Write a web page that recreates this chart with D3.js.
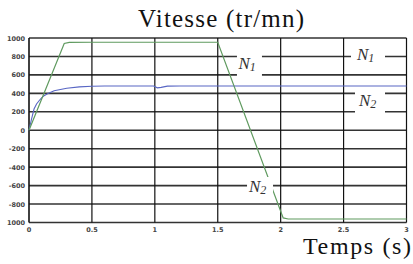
<!DOCTYPE html>
<html>
<head>
<meta charset="utf-8">
<script src="https://d3js.org/d3.v7.min.js"></script>
<style>
  body { margin: 0; background: white; }
</style>
</head>
<body>
<svg id="chart" width="413" height="264"></svg>
<script>
// data
const refT = [0, 0.28, 0.32, 0.5, 1.0, 1.5, 2.02, 2.06, 2.5, 3];
const refN = [0, 940, 952, 954, 954, 954, -950, -962, -962, -962];
const spdT = [0, 0.02, 0.04, 0.06, 0.08, 0.1, 0.12, 0.16, 0.2, 0.3, 0.4, 0.5, 0.6, 0.99, 1.02, 1.05, 1.1, 1.2, 2, 3];
const spdN = [0, 120, 230, 285, 320, 350, 375, 405, 428, 455, 470, 477, 480, 480, 460, 465, 478, 480, 480, 480];
const yTicks = [1000, 800, 600, 400, 200, 0, -200, -400, -600, -800, -1000];
const yTickText = ["1000", "800", "600", "400", "200", "0", "-200", "-400", "-600", "-800", "1000"];
const xTicks = [0, 0.5, 1, 1.5, 2, 2.5, 3];
const xTickText = ["0", "0.5", "1", "1.5", "2", "2.5", "3"];
// curve labels: position (t, N), sub index
const labT = [1.752, 1.836, 2.694, 2.71];
const labN = [702, -626, 805, 301];
const labSub = ["1", "2", "1", "2"];

const serif = "'Liberation Serif', 'DejaVu Serif', 'Noto Serif', 'Times New Roman', serif";

const svg = d3.select("#chart");
const margin = {top: 38, right: 6.5, bottom: 41.5, left: 29};
const W = 413, H = 264;

const x = d3.scaleLinear().domain([0, 3]).range([margin.left, W - margin.right]);
const y = d3.scaleLinear().domain([-1000, 1000]).range([H - margin.bottom, margin.top]);

// horizontal grid
svg.append("g")
  .selectAll("line").data(yTicks).join("line")
  .attr("x1", x(0)).attr("x2", x(3))
  .attr("y1", d => y(d)).attr("y2", d => y(d))
  .attr("stroke", "#333").attr("stroke-width", 1.6);

// vertical grid
svg.append("g")
  .selectAll("line").data(xTicks).join("line")
  .attr("x1", d => x(d)).attr("x2", d => x(d))
  .attr("y1", y(1000)).attr("y2", y(-1000))
  .attr("stroke", "#111").attr("stroke-width", d => d == 0 ? 1.6 : 1.2);

// tick labels
svg.append("g")
  .selectAll("text").data(yTicks).join("text")
  .attr("x", 25).attr("y", d => y(d) + 2.5)
  .attr("text-anchor", "end")
  .style("font-family", "'DejaVu Sans'").style("font-weight", "bold")
  .style("font-size", "6.5px").attr("fill", "#444")
  .text((d, i) => yTickText[i]);

svg.append("g")
  .selectAll("text").data(xTicks).join("text")
  .attr("x", d => x(d)).attr("y", 231.5)
  .attr("text-anchor", "middle")
  .style("font-family", "'DejaVu Sans'").style("font-weight", "bold")
  .style("font-size", "6.5px").attr("fill", "#444")
  .text((d, i) => xTickText[i]);

// curves
const line = d3.line().x(d => x(d[0])).y(d => y(d[1]));
svg.append("path")
  .attr("d", line(d3.zip(spdT, spdN)))
  .attr("fill", "none").attr("stroke", "#5866c4").attr("stroke-width", 1.1);
svg.append("path")
  .attr("d", line(d3.zip(refT, refN)))
  .attr("fill", "none").attr("stroke", "#5f9a5f").attr("stroke-width", 1.2);

// N labels with white boxes
const boxW = [25, 26, 34, 30], boxH = [27, 22, 20, 25];
const lg = svg.append("g");
labT.forEach((t0, i) => {
  const cx = x(t0), cy = y(labN[i]);
  lg.append("rect")
    .attr("x", cx - boxW[i] / 2).attr("y", cy - boxH[i] / 2)
    .attr("width", boxW[i]).attr("height", boxH[i])
    .attr("fill", "white");
  const t = lg.append("text")
    .attr("x", cx - 11).attr("y", cy + 4)
    .style("font-family", serif).style("font-style", "italic")
    .style("font-size", "17px").attr("fill", "#333");
  t.append("tspan").text("N");
  t.append("tspan").attr("dy", 2).style("font-size", "12px").text(labSub[i]);
});

// titles
svg.append("text")
  .attr("x", 221).attr("y", 27)
  .attr("text-anchor", "middle")
  .style("font-family", serif).style("font-size", "25px")
  .attr("textLength", 166)
  .attr("fill", "#111")
  .text("Vitesse (tr/mn)");
svg.append("text")
  .attr("x", 357).attr("y", 254)
  .attr("text-anchor", "middle")
  .style("font-family", serif).style("font-size", "24px")
  .attr("textLength", 108)
  .attr("fill", "#111")
  .text("Temps (s)");
</script>
</body>
</html>
